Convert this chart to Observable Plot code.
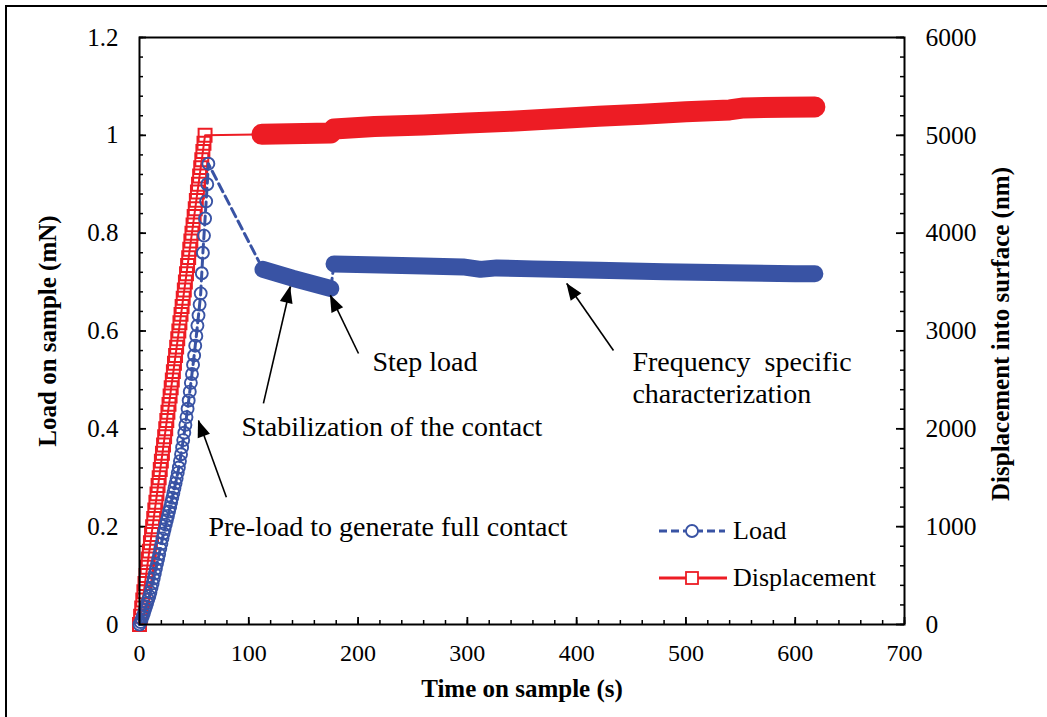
<!DOCTYPE html>
<html>
<head>
<meta charset="utf-8">
<script src="https://cdn.jsdelivr.net/npm/d3@7"></script>
<script src="https://cdn.jsdelivr.net/npm/@observablehq/plot@0.6"></script>
<style>
  html, body { margin: 0; padding: 0; background: white; overflow: hidden; }
  #wrap { position: relative; width: 1047px; height: 717px; }
  #outer { position: absolute; left: 5px; top: 5px; width: 2000px; height: 2000px;
           border-left: 2px solid black; border-top: 2px solid black; pointer-events: none; }
</style>
</head>
<body>
<div id="wrap"><div id="outer"></div></div>
<script>
// ---- data ----
const loadRampTime = [0,1,2,3,4,5,6,7,8,9,10,11,12,13,14,15,16,17,18,19,20,21,22,23,24,25,26,27,28,29,30,31,32,33,34,35,36,37,38,39,40,41,42,43,44,45,46,47,48,49,50,51,52,53,54,55,56,57,58,59,60,61,62,63];
const loadRamp = [0,0.005,0.011,0.017,0.023,0.030,0.037,0.044,0.051,0.058,0.066,0.075,0.084,0.094,0.104,0.114,0.124,0.134,0.144,0.155,0.165,0.176,0.186,0.195,0.204,0.213,0.222,0.231,0.240,0.250,0.259,0.269,0.279,0.289,0.299,0.310,0.321,0.334,0.348,0.362,0.377,0.392,0.408,0.424,0.441,0.458,0.476,0.494,0.512,0.531,0.550,0.570,0.590,0.611,0.632,0.654,0.677,0.718,0.760,0.795,0.830,0.865,0.900,0.942];
const loadBand1Time = [113, 140, 175];
const loadBand1 = [0.726, 0.708, 0.687];
const loadBand2Time = [178, 220, 260, 296, 312, 327, 360, 420, 480, 540, 600, 618];
const loadBand2 = [0.737, 0.735, 0.733, 0.731, 0.726, 0.729, 0.727, 0.724, 0.721, 0.719, 0.717, 0.717];

const dispRampTime = [0,1,2,3,4,5,6,7,8,9,10,11,12,13,14,15,16,17,18,19,20,21,22,23,24,25,26,27,28,29,30,31,32,33,34,35,36,37,38,39,40,41,42,43,44,45,46,47,48,49,50,51,52,53,54,55,56,57,58,59,60];
const dispRamp = [0,85,170,250,335,420,500,585,670,750,835,920,1000,1085,1170,1250,1335,1420,1500,1585,1670,1750,1835,1920,2000,2085,2170,2250,2335,2420,2500,2585,2670,2750,2835,2920,3000,3085,3170,3250,3335,3420,3500,3585,3670,3750,3835,3920,4000,4085,4170,4250,4335,4420,4500,4585,4670,4750,4835,4920,5000];
const dispBandTime = [112, 150, 175, 178, 215, 260, 300, 340, 380, 420, 460, 500, 540, 553, 590, 618];
const dispBand = [5010, 5018, 5025, 5065, 5090, 5105, 5125, 5145, 5170, 5195, 5215, 5240, 5260, 5280, 5288, 5290];

const timeTicks = [0, 100, 200, 300, 400, 500, 600, 700];
const loadTicks = [0, 0.2, 0.4, 0.6, 0.8, 1, 1.2];
const dispTicks = [0, 1000, 2000, 3000, 4000, 5000, 6000];
const timeMinor = [0,20,40,60,80,100,120,140,160,180,200,220,240,260,280,300,320,340,360,380,400,420,440,460,480,500,520,540,560,580,600,620,640,660,680,700];
const loadMinor = [0,0.04,0.08,0.12,0.16,0.2,0.24,0.28,0.32,0.36,0.4,0.44,0.48,0.52,0.56,0.6,0.64,0.68,0.72,0.76,0.8,0.84,0.88,0.92,0.96,1,1.04,1.08,1.12,1.16,1.2];

const annText = ["Pre-load to generate full contact", "Stabilization of the contact", "Step load", "Frequency\u00a0 specific", "characterization"];
const annX = [63.1, 93.3, 213.2, 451, 451];
const annY = [0.200, 0.403, 0.536, 0.536, 0.472];

const arrowX1 = [79.5, 113.4, 200.4, 433.7];
const arrowY1 = [0.26, 0.452, 0.554, 0.560];
const arrowX2 = [54, 138.2, 174.7, 391.0];
const arrowY2 = [0.417, 0.691, 0.673, 0.697];

const seriesNames = ["Load", "Displacement"];
const DISP_PER_LOAD = 5000; // 1.2 mN <-> 6000 nm

// ---- tables ----
const BLUE = "#3953a4", RED = "#ed1c24";
const loadRampData = loadRampTime.map((t, i) => ({t, v: loadRamp[i]}));
const band1 = loadBand1Time.map((t, i) => ({t, v: loadBand1[i]}));
const band2 = loadBand2Time.map((t, i) => ({t, v: loadBand2[i]}));
const loadAll = [...loadRampData, ...band1, ...band2];
const dispRampData = dispRampTime.map((t, i) => ({t, v: dispRamp[i] / DISP_PER_LOAD}));
const dispBandData = dispBandTime.map((t, i) => ({t, v: dispBand[i] / DISP_PER_LOAD}));
const dispAll = [...dispRampData, ...dispBandData];
const ann = annText.map((s, i) => ({s, x: annX[i], y: annY[i]}));
const arrows = arrowX1.map((x1, i) => ({x1, y1: arrowY1[i], x2: arrowX2[i], y2: arrowY2[i]}));

const W = 1047, H = 717, ML = 139, MR = 143, MT = 37, MB = 93;
const FW = W - ML - MR, FH = H - MT - MB;
const FONT = "'Liberation Serif', 'Times New Roman', serif";

const plot = Plot.plot({
  width: W, height: H,
  marginLeft: ML, marginRight: MR, marginTop: MT, marginBottom: MB,
  x: {domain: [0, 700]},
  y: {domain: [0, 1.2]},
  style: {fontFamily: FONT, fontSize: "24px", color: "black", background: "white", overflow: "visible"},
  marks: [
    // minor/major inward ticks
    Plot.tickY(loadMinor, {y: d => d, insetRight: FW - 4, stroke: "black", strokeWidth: 1.5}),
    Plot.tickY(loadTicks, {y: d => d, insetRight: FW - 7, stroke: "black", strokeWidth: 1.8}),
    Plot.tickY(loadMinor, {y: d => d, insetLeft: FW - 4, stroke: "black", strokeWidth: 1.5}),
    Plot.tickY(loadTicks, {y: d => d, insetLeft: FW - 8, stroke: "black", strokeWidth: 1.8}),
    Plot.tickX(timeMinor, {x: d => d, insetTop: FH - 4, stroke: "black", strokeWidth: 1.5}),
    Plot.tickX(timeTicks, {x: d => d, insetTop: FH - 7, stroke: "black", strokeWidth: 1.8}),
    Plot.axisY({anchor: "left", ticks: loadTicks, tickSize: 0, tickPadding: 21, tickFormat: d => String(d), label: null, fontSize: 25}),
    Plot.axisY({anchor: "right", ticks: dispTicks.map(d => d / DISP_PER_LOAD), tickSize: 0, tickPadding: 21,
      tickFormat: d => String(dispTicks[Math.round(d / 0.2)]), label: null, fontSize: 25.5}),
    Plot.axisX({anchor: "bottom", ticks: timeTicks, tickSize: 0, tickPadding: 19, label: null, fontSize: 24}),
    // axis titles
    Plot.text(["Time on sample (s)"], {frameAnchor: "bottom", dy: 64, text: d => d, fontWeight: "bold", fontSize: 25, lineAnchor: "middle"}),
    Plot.text(["Load on sample (mN)"], {frameAnchor: "left", dx: -92, text: d => d, rotate: -90, fontWeight: "bold", fontSize: 25, lineAnchor: "middle", textAnchor: "middle"}),
    Plot.text(["Displacement into surface (nm)"], {frameAnchor: "right", dx: 96, dy: 3, text: d => d, rotate: -90, fontWeight: "bold", fontSize: 25, lineAnchor: "middle", textAnchor: "middle"}),
    // displacement series
    Plot.line(dispAll, {x: "t", y: "v", stroke: RED, strokeWidth: 2}),
    Plot.line(dispBandData, {x: "t", y: "v", stroke: RED, strokeWidth: 21, strokeLinecap: "round", strokeLinejoin: "round"}),
    Plot.dot(dispRampData, {x: "t", y: "v", symbol: "square", r: 7.3, stroke: RED, strokeWidth: 2, fill: "none"}),
    // load series
    Plot.line(loadAll, {x: "t", y: "v", stroke: BLUE, strokeWidth: 3, strokeDasharray: "9,5"}),
    Plot.line(band1, {x: "t", y: "v", stroke: BLUE, strokeWidth: 17, strokeLinecap: "round", strokeLinejoin: "round"}),
    Plot.line(band2, {x: "t", y: "v", stroke: BLUE, strokeWidth: 17, strokeLinecap: "round", strokeLinejoin: "round"}),
    Plot.dot(loadRampData, {x: "t", y: "v", r: 6, stroke: BLUE, strokeWidth: 1.9, fill: "none"}),
    // annotations
    Plot.link(arrows, {x1: "x1", y1: "y1", x2: "x2", y2: "y2", stroke: "black", strokeWidth: 1.6}),
    Plot.text(ann, {x: "x", y: "y", text: "s", textAnchor: "start", lineAnchor: "middle", fontSize: 28}),
    Plot.frame({stroke: "black", strokeWidth: 2})
  ]
});

// filled arrowheads
const sx = plot.scale("x"), sy = plot.scale("y");
const g = d3.select(plot).append("g");
arrows.forEach(a => {
  const x1 = sx.apply(a.x1), y1 = sy.apply(a.y1), x2 = sx.apply(a.x2), y2 = sy.apply(a.y2);
  const ang = Math.atan2(y2 - y1, x2 - x1);
  const L = 17, Wd = 6.5;
  const bx = x2 - L * Math.cos(ang), by = y2 - L * Math.sin(ang);
  const px = -Math.sin(ang) * Wd, py = Math.cos(ang) * Wd;
  g.append("path").attr("d", `M${x2},${y2}L${bx + px},${by + py}L${bx - px},${by - py}Z`).attr("fill", "black");
});

// legend (inside plot area)
const lg = d3.select(plot).append("g").attr("font-family", FONT).attr("font-size", 26).attr("text-anchor", "start");
lg.append("line").attr("x1", 659).attr("x2", 725).attr("y1", 531).attr("y2", 531)
  .attr("stroke", BLUE).attr("stroke-width", 2.8).attr("stroke-dasharray", "8,4");
lg.append("circle").attr("cx", 692).attr("cy", 531).attr("r", 6).attr("fill", "white").attr("stroke", BLUE).attr("stroke-width", 1.8);
lg.append("text").attr("x", 733).attr("y", 531).attr("dy", "0.32em").attr("fill", "black").text(seriesNames[0]);
lg.append("line").attr("x1", 659).attr("x2", 727).attr("y1", 578).attr("y2", 578)
  .attr("stroke", RED).attr("stroke-width", 2.8);
lg.append("rect").attr("x", 686).attr("y", 572).attr("width", 12).attr("height", 12).attr("fill", "white").attr("stroke", RED).attr("stroke-width", 1.8);
lg.append("text").attr("x", 733).attr("y", 578).attr("dy", "0.32em").attr("fill", "black").text(seriesNames[1]);

document.getElementById("wrap").prepend(plot);
</script>
</body>
</html>
